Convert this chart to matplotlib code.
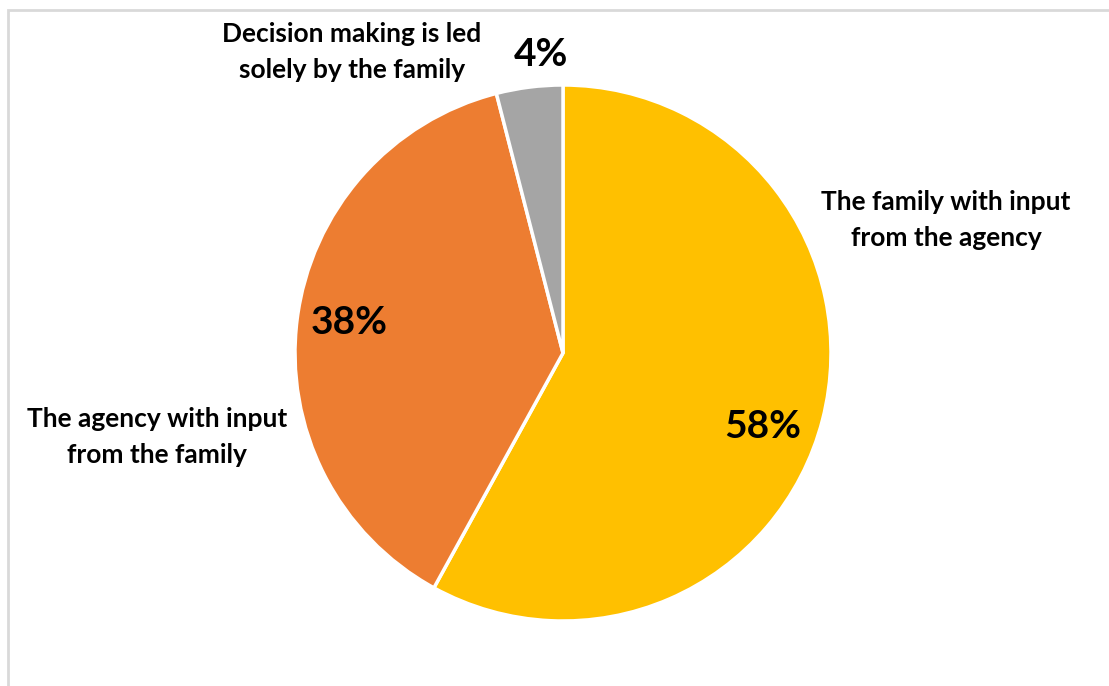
import matplotlib.pyplot as plt
from matplotlib.patches import Rectangle

plt.rcParams['font.family'] = ['Lato', 'DejaVu Sans']

# data
categories = ['The family with input\nfrom the agency',
              'The agency with input\nfrom the family',
              'Decision making is led\nsolely by the family']
values = [58, 38, 4]
colors = ['#FFC000', '#ED7D31', '#A5A5A5']

# label spots in pixel coords (x, y from top)
name_pos = [(946, 220), (157, 437), (352, 52)]
pct_pos = [(763, 427), (349, 323), (541, 55)]

W, H = 1109, 686
fig = plt.figure(figsize=(W / 100, H / 100), dpi=100)
ax = fig.add_axes([0, 0, 1, 1])

# chart frame
ax.add_patch(Rectangle((8, -20), W + 20, H - 10 + 20, fill=False,
                       edgecolor='#D9D9D9', lw=2))

ax.pie(values, colors=colors, startangle=90, counterclock=False,
       center=(563, H - 353), radius=268, frame=True,
       wedgeprops=dict(edgecolor='white', linewidth=2.5))
ax.set_xlim(0, W)
ax.set_ylim(0, H)
ax.set_aspect('equal')
ax.axis('off')

for lab, (x, y) in zip(categories, name_pos):
    ax.text(x, H - y, lab, ha='center', va='center', fontsize=19,
            fontweight='bold', color='black', linespacing=1.6)

for v, (x, y) in zip(values, pct_pos):
    ax.text(x, H - y, '%d%%' % v, ha='center', va='center', fontsize=28,
            fontweight='bold', color='black')

fig.savefig('out.png', dpi=100)
